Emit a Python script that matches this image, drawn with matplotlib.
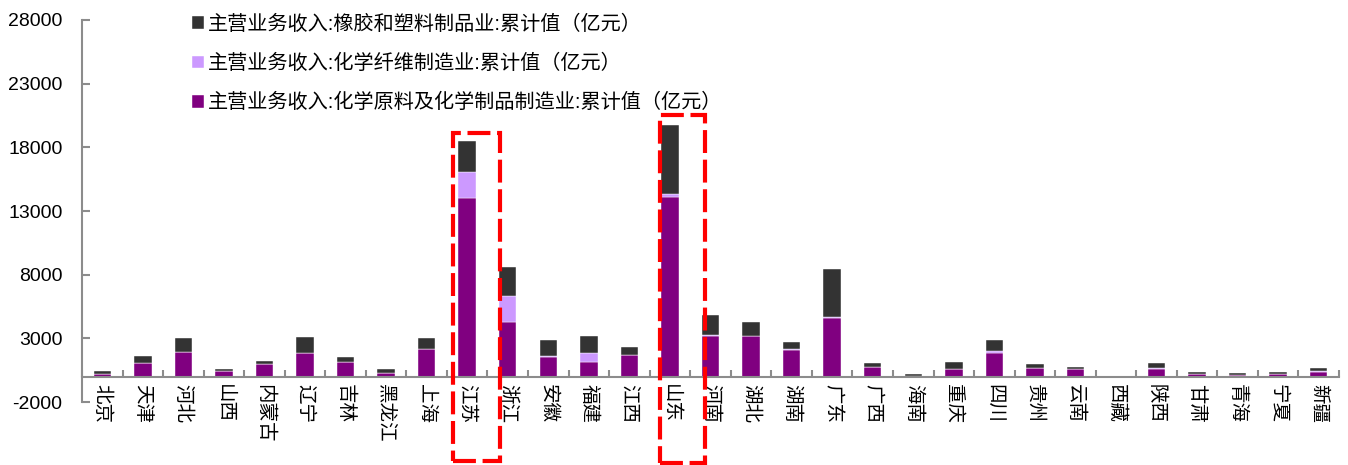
import matplotlib
matplotlib.use("Agg")
import matplotlib.pyplot as plt
import matplotlib.transforms as mtransforms
from matplotlib.patches import Rectangle
import numpy as np

plt.rcParams['font.family'] = ['Liberation Sans', 'Noto Sans CJK SC', 'DejaVu Sans']

provinces = ['北京', '天津', '河北', '山西', '内蒙古', '辽宁', '吉林', '黑龙江', '上海', '江苏',
             '浙江', '安徽', '福建', '江西', '山东', '河南', '湖北', '湖南', '广东', '广西',
             '海南', '重庆', '四川', '贵州', '云南', '西藏', '陕西', '甘肃', '青海', '宁夏', '新疆']

# 主营业务收入累计值（亿元）
chem_materials = [200, 1060, 1900, 430, 960, 1850, 1140, 250, 2160, 14000,
                  4280, 1560, 1110, 1690, 14080, 3180, 3160, 2110, 4570, 720,
                  60, 590, 1820, 690, 560, 40, 610, 200, 150, 170, 380]
chem_fiber = [10, 30, 50, 5, 10, 30, 30, 5, 30, 2040,
              2040, 40, 710, 40, 260, 50, 30, 20, 100, 10,
              5, 20, 210, 10, 10, 0, 60, 5, 5, 5, 80]
rubber_plastic = [250, 550, 1100, 180, 280, 1200, 360, 310, 810, 2480,
                  2280, 1240, 1380, 610, 5390, 1630, 1060, 600, 3750, 340,
                  140, 550, 860, 270, 210, 10, 390, 130, 125, 180, 210]

labels = ['主营业务收入:橡胶和塑料制品业:累计值（亿元）',
          '主营业务收入:化学纤维制造业:累计值（亿元）',
          '主营业务收入:化学原料及化学制品制造业:累计值（亿元）']
highlight = ['江苏', '山东']

c_chem, c_fiber, c_rubber = '#800080', '#CC99FF', '#333333'
axis_grey = '#8c8c8c'

fig = plt.figure(figsize=(13.48, 4.65), dpi=100)
ax = fig.add_axes([82 / 1348, 63 / 465, 1257 / 1348, 382 / 465])

x = np.arange(len(provinces))
chem = np.array(chem_materials, float)
fiber = np.array(chem_fiber, float)
rub = np.array(rubber_plastic, float)
w = 0.43
b1 = ax.bar(x, chem, w, color=c_chem, edgecolor='white', linewidth=0.3, label=labels[2])
b2 = ax.bar(x, fiber, w, bottom=chem, color=c_fiber, edgecolor='white', linewidth=0.3, label=labels[1])
b3 = ax.bar(x, rub, w, bottom=chem + fiber, color=c_rubber, edgecolor='white', linewidth=0.3, label=labels[0])

ymin, ymax = -2000, 28000
ax.set_xlim(-0.5, len(provinces) - 0.5)
ax.set_ylim(ymin, ymax)
ax.set_yticks(np.arange(ymin, ymax + 1, 5000))
ax.set_yticklabels([str(v) for v in range(ymin, ymax + 1, 5000)], fontsize=14)

for s in ['top', 'right']:
    ax.spines[s].set_visible(False)
ax.spines['left'].set_color(axis_grey)
ax.spines['left'].set_linewidth(1.5)
ax.spines['bottom'].set_position(('data', 0))
ax.spines['bottom'].set_color(axis_grey)
ax.spines['bottom'].set_linewidth(1.5)

ax.tick_params(axis='y', direction='in', length=6, width=1.5, color=axis_grey, pad=14)
ax.set_xticks(np.arange(-0.5, len(provinces) + 0.5, 1))
ax.set_xticklabels([])
ax.tick_params(axis='x', direction='in', length=5, width=1.5, color=axis_grey)

# province names, rotated, hung just below the zero line
trans_lab = mtransforms.blended_transform_factory(ax.transData, ax.transAxes)
zero_frac = (0 - ymin) / (ymax - ymin)
for i, name in enumerate(provinces):
    ax.text(i, zero_frac - 0.02, name, transform=trans_lab, rotation=-90, ha='center', va='top',
            fontsize=14, family=['Noto Sans CJK SC', 'DejaVu Sans'])

# dashed frames around the two leading provinces
frames = {'江苏': (-0.35, 0.81, -0.154, 0.704), '山东': (-0.25, 0.86, -0.16, 0.751)}
for name in highlight:
    i = provinces.index(name)
    l, r, b, t = frames[name]
    rect = Rectangle((i + l, b), r - l, t - b, transform=trans_lab, fill=False,
                     edgecolor='#FF0000', linewidth=3, linestyle=(0, (5.5, 1.6)),
                     clip_on=False, zorder=5)
    ax.add_patch(rect)

leg = ax.legend(handles=[b3, b2, b1], labels=labels, loc='upper left',
                bbox_to_anchor=(0.073, 1.062), frameon=False,
                prop={'family': ['Liberation Sans', 'Noto Sans CJK SC'], 'size': 14.5},
                handlelength=0.6, handleheight=0.6, handletextpad=0.2, labelspacing=1.0)

fig.savefig('out.png', dpi=100)
